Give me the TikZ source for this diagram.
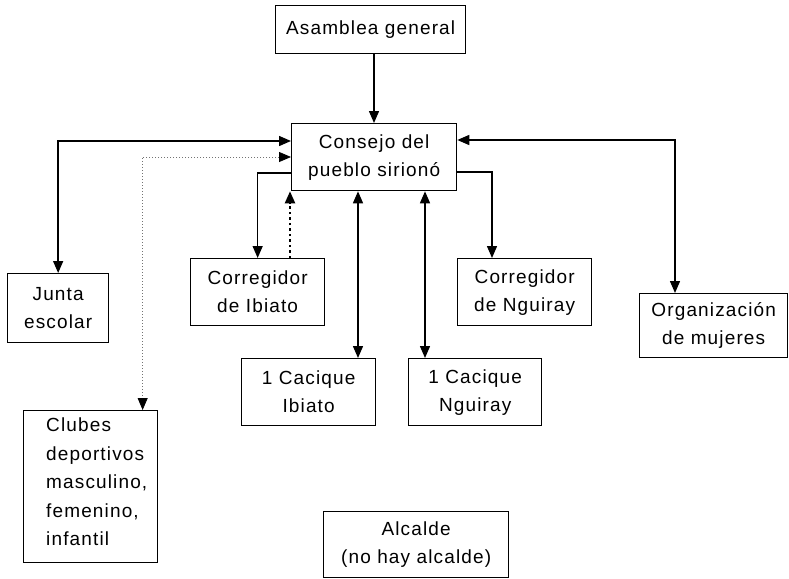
\documentclass[tikz,border=0pt]{standalone}
\usepackage{fontspec}
\setmainfont{Liberation Sans}[LetterSpace=6]
\usetikzlibrary{arrows.meta,calc}
\begin{document}
\begin{tikzpicture}[x=1pt,y=-1pt,
  >={Triangle[width=10pt,length=12pt]},
  box/.style={draw=black, line width=1.3pt, rectangle, anchor=north west, inner sep=0pt,
    align=center, font=\fontsize{19}{28}\selectfont},
  conn/.style={line width=1.4pt, draw=black},
  dots/.style={line width=0.8pt, draw=black!55, dash pattern=on 1pt off 2pt},
  thickdots/.style={line width=2.2pt, draw=black, dash pattern=on 2.5pt off 3pt}
]
\useasboundingbox (0,0) rectangle (789,578);

\node[box, minimum width=190pt, minimum height=48pt] (asam) at (275,5) {Asamblea general};
\node[box, minimum width=165pt, minimum height=67pt] (consejo) at (291,123) {Consejo del\\pueblo sirionó};
\node[box, minimum width=101pt, minimum height=69pt] (junta) at (7,273) {Junta\\escolar};
\node[box, minimum width=134pt, minimum height=67pt] (corrI) at (190,258) {Corregidor\\de Ibiato};
\node[box, minimum width=134pt, minimum height=67pt] (corrN) at (457,258) {Corregidor\\de Nguiray};
\node[box, minimum width=134pt, minimum height=67pt] (cacI) at (241,358) {1 Cacique\\Ibiato};
\node[box, minimum width=133pt, minimum height=67pt] (cacN) at (408,358) {1 Cacique\\Nguiray};
\node[box, minimum width=148pt, minimum height=64pt] (org) at (639,293) {Organización\\de mujeres};
\node[box, minimum width=134pt, minimum height=152pt] (clubes) at (23,410) {};
\node[anchor=north west, inner sep=0pt, align=left, font=\fontsize{19}{28.5}\selectfont] (clubesT) at (46,418)
  {Clubes\\deportivos\\masculino,\\femenino,\\infantil};
\node[box, minimum width=185pt, minimum height=66pt] (alc) at (323,511) {Alcalde\\(no hay alcalde)};

% connectors
\draw[conn, ->] (asam.south -| 374,0) -- (consejo.north -| 374,0);
\draw[conn, <->] (consejo.west |- 0,141) -| (junta.north);
\draw[dots, {Triangle[width=10pt,length=12pt,black]}-{Triangle[width=10pt,length=12pt,black]}] (consejo.west |- 0,157) -| ([xshift=52pt]clubes.north);
\draw[conn, ->] (consejo.west |- 0,173) -| (corrI.north);
\draw[thickdots, ->] (corrI.north -| 290,0) -- (consejo.south -| 290,0);
\draw[conn, <->] (consejo.south -| 358,0) -- (cacI.north -| 358,0);
\draw[conn, <->] (consejo.south -| 425,0) -- (cacN.north -| 425,0);
\draw[conn, ->] (consejo.east |- 0,172) -| (corrN.north -| 492,0);
\draw[conn, <->] (consejo.east |- 0,140) -| (org.north -| 675,0);
\end{tikzpicture}
\end{document}
